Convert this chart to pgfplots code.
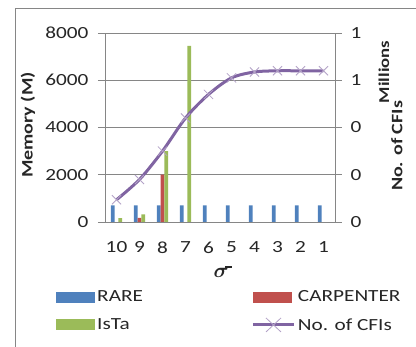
\documentclass[border=0pt]{standalone}
\usepackage{pgfplots}
\pgfplotsset{compat=1.18}
\usepackage{fontspec}
\setmainfont{Carlito}[FakeStretch=1.25]
\usepackage{bm}
\definecolor{rare}{HTML}{4F81BD}
\definecolor{carp}{HTML}{C0504D}
\definecolor{ista}{HTML}{9BBB59}
\definecolor{cfi}{HTML}{8064A2}
\definecolor{cfil}{HTML}{B3A2C7}
\definecolor{axgray}{HTML}{868686}
\begin{document}
\begin{tikzpicture}[font=\fontsize{17}{20}\selectfont, text=black!85]
\useasboundingbox (-105pt,-125pt) rectangle (311pt,222pt);
\draw[axgray, line width=0.8pt] (-90pt,-130pt) -- (-90pt,214pt) -- (320pt,214pt);
\begin{axis}[
  at={(0pt,0pt)}, anchor=south west,
  scale only axis, width=230pt, height=189pt,
  xmin=-0.5, xmax=9.5, ymin=0, ymax=8000,
  xtick={0,...,9}, xticklabels={10,9,8,7,6,5,4,3,2,1},
  ytick={0,2000,4000,6000,8000},
  scaled y ticks=false,
  yticklabel style={/pgf/number format/1000 sep=, /pgf/number format/assume math mode=true, xshift=-6pt},
  xticklabel style={/pgf/number format/assume math mode=true, yshift=-9pt},
  ymajorgrids, grid style={axgray, line width=0.6pt},
  axis x line*=bottom, axis y line*=left,
  axis line style={axgray, line width=0.6pt, -},
  tick align=outside, major tick length=7pt,
  ytick style={axgray, line width=0.6pt},
  xtick style={draw=none},
  ybar=0pt, bar width=3.7pt,
  legend image code/.code={\fill[#1] (0pt,-5.5pt) rectangle (39pt,5.5pt);},
  legend columns=2,
  legend style={at={(-0.215,-0.35)}, anchor=north west, draw=none, fill=none,
    inner sep=0pt, row sep=10pt, /tikz/column 2/.style={column sep=106pt},
    nodes={inner sep=2.5pt, anchor=west}},
  legend cell align=left,
]
\addplot[fill=rare, draw=none] coordinates {(0,700) (1,700) (2,700) (3,700) (4,700) (5,700) (6,700) (7,700) (8,700) (9,700)};
\addlegendentry{RARE}
\addplot[fill=carp, draw=none] coordinates {(1,170) (2,2000)};
\addlegendentry{CARPENTER}
\addplot[fill=ista, draw=none] coordinates {(0,160) (1,320) (2,3000) (3,7450)};
\addlegendentry{IsTa}
\addlegendimage{legend image code/.code={
  \draw[cfi, line width=3pt] (0pt,0pt) -- (41pt,0pt);
  \draw[cfil, line width=0.8pt] (13pt,-7pt) -- (28pt,7pt) (13pt,7pt) -- (28pt,-7pt);}}
\addlegendentry{No. of CFIs}
\end{axis}
\begin{axis}[
  at={(0pt,0pt)}, anchor=south west,
  scale only axis, width=230pt, height=189pt,
  xmin=-0.5, xmax=9.5, ymin=0, ymax=0.8,
  axis x line=none, axis y line*=right,
  axis line style={axgray, line width=0.6pt, -},
  ytick={0,0.2,0.4,0.6,0.8}, yticklabels={0,0,0,1,1},
  tick align=outside, major tick length=7pt,
  ytick style={axgray, line width=0.6pt},
  yticklabel style={xshift=5pt},
]
\addplot[cfi, line width=3pt, smooth, mark=x, mark size=6.5pt,
  mark options={cfil, line width=0.8pt}]
  coordinates {(0,0.094) (1,0.18) (2,0.30) (3,0.44) (4,0.54) (5,0.61) (6,0.635) (7,0.64) (8,0.64) (9,0.64)};
\end{axis}
\node[rotate=90, font=\fontsize{16}{19}\selectfont\bfseries] at (-77pt,97pt) {Memory (M)};
\node[rotate=90, font=\fontsize{16}{19}\selectfont\bfseries] at (292pt,76pt) {No. of CFIs};
\node[rotate=90, font=\fontsize{15}{18}\selectfont\bfseries] at (279pt,150pt) {Millions};
\node[inner sep=0pt] at (118pt,-50pt) {\fontsize{20}{22}\selectfont$\bm{\sigma}$\hspace{-3pt}\raisebox{10pt}{\rule{7pt}{1.2pt}}};
\end{tikzpicture}
\end{document}
